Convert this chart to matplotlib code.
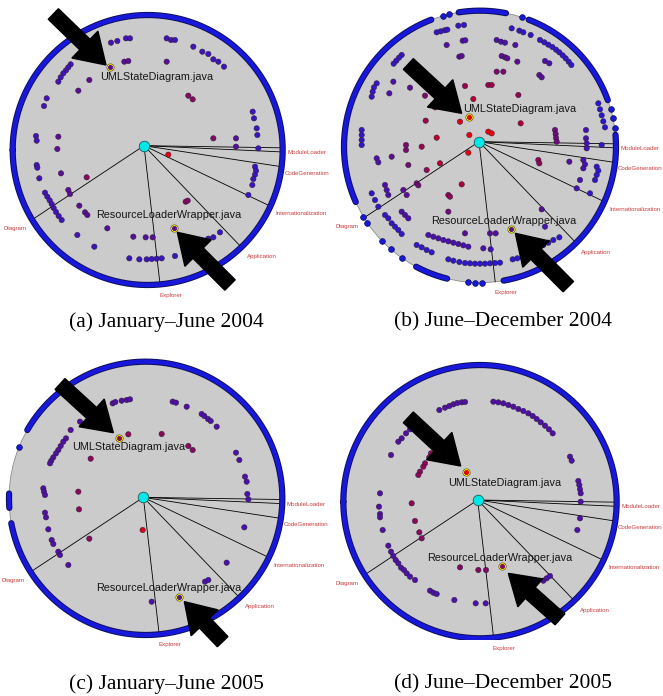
import numpy as np
import matplotlib.pyplot as plt
from matplotlib.patches import Circle, FancyArrow
from matplotlib.colors import LinearSegmentedColormap

# module spokes (angle in degrees from the hub, counter-clockwise from east)
module_names = ['', 'ModuleLoader', 'CodeGeneration', 'Internationalization',
                'Application', 'Explorer', 'Diagram']
module_angles = [-0.9, -2.6, -8.7, -25.6, -46.2, -83.4, -146.5]

captions = ['(a) January\u2013June 2004', '(b) June\u2013December 2004',
            '(c) January\u2013June 2005', '(d) June\u2013December 2005']

# panel a  (local units: 1/3 pixel)
a_ring = [(-180, 180)]
a_dots = [
    (333, 128), (352, 123), (378, 115), (390, 115),
    (500, 115), (513, 120), (525, 120),
    (580, 140), (607, 155), (625, 162), (640, 178), (655, 185), (672, 200),
    (373, 185), (385, 183), (500, 185),
    (212, 193), (205, 202), (198, 211), (190, 220), (182, 232), (175, 245),
    (268, 240), (235, 272), (140, 295), (132, 318),
    (565, 287), (578, 298),
    (758, 335), (762, 355), (770, 385), (772, 405),
    (640, 415), (708, 415), (708, 440), (775, 445),
    (505, 464),
    (765, 500), (768, 512), (765, 524), (760, 537), (757, 555), (745, 585),
    (108, 408), (110, 422), (175, 410), (172, 447),
    (110, 495), (112, 503), (118, 535), (183, 520), (260, 532),
    (205, 570), (210, 582),
    (135, 578), (142, 590), (149, 601), (155, 612), (161, 624), (168, 636), (176, 648), (185, 660),
    (238, 617), (255, 637), (262, 645),
    (322, 685), (232, 705), (283, 740),
    (400, 710), (437, 712), (458, 712),
    (557, 605), (563, 602),
    (612, 728), (625, 716), (640, 712), (660, 697),
    (388, 775), (418, 778), (440, 778), (455, 777), (470, 776), (485, 775),
    (525, 768),
]

# panel b
b_ring = [(-80, 5), (20, 69), (79, 99), (111, 204), (-118, -104)]
b_ring_dots = [8, 12, 16, 72, 103, 106, -149, -146, -136, -131, -125, -95, -92, -89]
b_dots = [
    (320, 97), (332, 94), (344, 91), (352, 89), (385, 77), (402, 75),
    (398, 122), (406, 121), (350, 135),
    (500, 120), (513, 125), (525, 128),
    (545, 85), (568, 92), (580, 97), (602, 105), (556, 135),
    (630, 120), (643, 127), (655, 134), (667, 141), (678, 149), (688, 157),
    (698, 166), (707, 175), (716, 185), (724, 195),
    (645, 183), (658, 190), (388, 170), (395, 168),
    (515, 168), (525, 172), (532, 175), (562, 185),
    (500, 215), (520, 215), (628, 225), (635, 232),
    (215, 165), (207, 173), (199, 182), (191, 191),
    (190, 245), (178, 280), (240, 263),
    (140, 250), (132, 262), (128, 275), (125, 290),
    (475, 255), (485, 255), (565, 285),
    (405, 258), (430, 297), (285, 287), (315, 322),
    (390, 365), (572, 370), (287, 362),
    (475, 395), (485, 400), (418, 405), (320, 413), (415, 458),
    (228, 435), (228, 450), (275, 440),
    (235, 495), (185, 470), (140, 475), (145, 487),
    (95, 390), (95, 405), (95, 420), (95, 435),
    (330, 490), (290, 510),
    (260, 550), (265, 556), (220, 570), (230, 585),
    (165, 555), (170, 570), (175, 585),
    (125, 580), (135, 600), (145, 620),
    (215, 635), (225, 645), (235, 655),
    (165, 645), (175, 655), (185, 670), (195, 680), (205, 690), (215, 702),
    (395, 553), (355, 585), (360, 590), (355, 635),
    (295, 705), (310, 710), (325, 715), (340, 720), (355, 724), (370, 728),
    (385, 732), (400, 736), (415, 740),
    (260, 735), (275, 742), (290, 750), (305, 757),
    (355, 778), (370, 782), (388, 786), (405, 789), (420, 790), (435, 791),
    (450, 791), (465, 791), (480, 790), (495, 789), (510, 788),
    (460, 745), (482, 748), (405, 700), (480, 700), (497, 700),
    (548, 778), (562, 775), (580, 768), (600, 762), (620, 752),
    (640, 735), (655, 728), (670, 720), (688, 712),
    (635, 628), (645, 680),
    (675, 390), (677, 402), (678, 414), (680, 425),
    (768, 390), (768, 415), (770, 430), (770, 445), (815, 435),
    (760, 480), (765, 493), (760, 505),
    (718, 485), (625, 480), (628, 490),
    (800, 500), (805, 512), (800, 525), (795, 540),
    (740, 565), (750, 540), (780, 580),
    (805, 310), (810, 328), (815, 346), (820, 364), (825, 382),
]

# panel c
c_ring = [(-169.5, 150), (178, 184)]
c_ring_dots = [158]
c_dots = [
    (303, 205), (338, 190), (346, 186), (365, 182), (380, 180), (390, 178),
    (518, 185), (528, 188), (560, 200),
    (605, 222), (613, 228), (624, 237), (632, 243), (650, 260),
    (240, 245), (212, 270),
    (198, 295), (190, 305), (182, 318), (175, 330), (168, 340), (160, 352), (154, 362), (150, 370),
    (385, 283), (485, 282), (565, 318), (578, 330), (272, 356),
    (708, 338), (718, 360), (735, 410), (740, 425), (742, 462), (745, 478),
    (130, 445), (132, 455), (135, 465),
    (235, 455), (237, 508),
    (135, 518), (138, 532), (145, 568), (155, 600), (160, 612), (175, 635), (180, 645), (205, 675),
    (268, 596), (428, 570),
    (733, 562), (680, 668), (615, 725), (625, 720), (455, 785),
]

# panel d
d_ring = [(-180, 180)]
d_dots = [
    (328, 210), (345, 203), (358, 198), (370, 193), (382, 189), (395, 187), (405, 186),
    (490, 185), (505, 187), (520, 190), (535, 195), (550, 200), (565, 207), (580, 213),
    (595, 220), (608, 228), (620, 237), (632, 247), (645, 257), (657, 268), (668, 280),
    (240, 268), (228, 280), (215, 295), (205, 305), (183, 345),
    (362, 305), (303, 340), (298, 352), (285, 370), (280, 380), (270, 395), (265, 405),
    (720, 350), (725, 362),
    (745, 423), (748, 435), (750, 448), (752, 460), (752, 485),
    (150, 460), (147, 500), (150, 522), (150, 532), (158, 570),
    (245, 490), (255, 543), (268, 577), (275, 595),
    (750, 535), (742, 570),
    (175, 617), (183, 635), (190, 648), (197, 660), (205, 670), (213, 683),
    (222, 690), (230, 700), (240, 710), (255, 720),
    (300, 752), (310, 758), (320, 762),
    (373, 780), (437, 790), (467, 790),
    (390, 682), (445, 690), (468, 690),
    (640, 722), (650, 715), (660, 708),
]

cmap = LinearSegmentedColormap.from_list('age', [
    (0.0, '#ff0000'), (0.22, '#e00012'), (0.38, '#a8003c'), (0.5, '#860a5c'),
    (0.62, '#5e0e8c'), (0.76, '#4c12a8'), (0.9, '#2e18cc'), (1.0, '#1414e8')])

label_offsets = {
    'ModuleLoader': (14, 2, 'left'),
    'CodeGeneration': (8, 19, 'left'),
    'Internationalization': (15, 23, 'left'),
    'Application': (16, 28, 'left'),
    'Explorer': (-2, 32, 'left'),
    'Diagram': (-17, 25, 'right'),
}

W_FIG, H_FIG = 663, 696
fig = plt.figure(figsize=(6.63, 6.96), dpi=100)


def ray_end(hub, center, r, ang):
    d = np.array([np.cos(np.radians(ang)), -np.sin(np.radians(ang))])
    p = np.array(hub, float) - np.array(center, float)
    b = p @ d
    t = -b + np.sqrt(b * b - (p @ p - r * r))
    return np.array(hub) + t * d


def draw_panel(px, py, width, center, r, hub, ring, dots, uml, rlw, uml_lab, rlw_lab,
               arrows, ring_dots=()):
    ax = fig.add_axes([px / W_FIG, 1 - (py + 300) / H_FIG, width / W_FIG, 300 / H_FIG])
    ax.set_xlim(0, width * 3)
    ax.set_ylim(900, 0)
    ax.set_aspect('equal')
    ax.axis('off')
    cx, cy = center
    ax.add_patch(Circle(center, r, facecolor='#cbcbcb', edgecolor='#8c8c8c', lw=0.6, zorder=1))

    # spokes and module labels
    for name, ang in zip(module_names, module_angles):
        ex, ey = ray_end(hub, center, r, ang)
        ax.plot([hub[0], ex], [hub[1], ey], color='black', lw=0.6, zorder=2)
        if name:
            dx, dy, ha = label_offsets[name]
            ax.text(ex + dx, ey + dy, name, ha=ha, va='center', fontsize=4.4,
                    color='#cc3b3b', family='Liberation Sans', zorder=5)

    # outer ring of files
    for a0, a1 in ring:
        th = np.radians(np.linspace(a0, a1, 400))
        xs, ys = cx + r * np.cos(th), cy - r * np.sin(th)
        ax.plot(xs, ys, color='#0e0e5a', lw=4.5, solid_capstyle='round', zorder=3)
        ax.plot(xs, ys, color='#1818dc', lw=3.1, solid_capstyle='round', zorder=3)
    if len(ring_dots):
        th = np.radians(ring_dots)
        ax.scatter(cx + r * np.cos(th), cy - r * np.sin(th), s=17, color='#1818dc',
                   edgecolors='#0e0e5a', linewidths=0.5, zorder=3)

    pts = np.array(dots, float)
    t = np.clip(np.hypot(pts[:, 0] - hub[0], pts[:, 1] - hub[1]) / r, 0, 1)
    ax.scatter(pts[:, 0], pts[:, 1], s=15, c=cmap(t), edgecolors='#2a1a3a',
               linewidths=0.35, zorder=4)

    # highlighted files
    for (hx, hy), (lx, ly, text) in zip([uml, rlw], [uml_lab, rlw_lab]):
        tt = np.hypot(hx - hub[0], hy - hub[1]) / r
        ax.scatter([hx], [hy], s=28, color='#ffff00', edgecolors='#404000', linewidths=0.4, zorder=5)
        ax.scatter([hx], [hy], s=7, color=cmap(tt), zorder=5)
        ax.text(lx, ly, text, ha='center', va='center', fontsize=7.8, color='#161616',
                family='Liberation Sans', zorder=6)

    ax.scatter([hub[0]], [hub[1]], s=58, color='#00e8e8', edgecolors='#1e5a5a',
               linewidths=0.6, zorder=5)

    for (x0, y0), (x1, y1) in arrows:
        ax.add_patch(FancyArrow(x0, y0, x1 - x0, y1 - y0, width=44, head_width=112,
                                head_length=88, length_includes_head=True,
                                color='black', zorder=7, clip_on=False))


draw_panel(0, 0, 330, (443, 450), 405, (432, 437), a_ring, a_dots,
           (330, 200), (522, 684),
           (470, 232, 'UMLStateDiagram.java'), (505, 645, 'ResourceLoaderWrapper.java'),
           [((160, 42), (318, 195)), ((690, 855), (532, 697))])
draw_panel(330, 0, 333, (450, 440), 408, (447, 425), b_ring, b_dots,
           (418, 352), (542, 688),
           (570, 327, 'UMLStateDiagram.java'), (520, 662, 'ResourceLoaderWrapper.java'),
           [((235, 192), (395, 340)), ((715, 860), (556, 700))], b_ring_dots)
draw_panel(0, 340, 330, (437, 475), 410, (430, 472), c_ring, c_dots,
           (358, 295), (538, 770),
           (385, 320, 'UMLStateDiagram.java'), (505, 745, 'ResourceLoaderWrapper.java'),
           [((180, 132), (340, 278)), ((668, 905), (553, 785))], c_ring_dots)
draw_panel(330, 340, 333, (450, 485), 410, (443, 480), d_ring, d_dots,
           (408, 395), (517, 678),
           (525, 428, 'UMLStateDiagram.java'), (508, 653, 'ResourceLoaderWrapper.java'),
           [((235, 232), (392, 378)), ((690, 838), (535, 700))])

for (x, y), text in zip([(166, 322), (503, 322), (166, 684), (503, 684)], captions):
    fig.text(x / W_FIG, 1 - y / H_FIG, text, ha='center', va='center', fontsize=15.5,
             family='Liberation Serif')

fig.savefig('out.png', dpi=100)
